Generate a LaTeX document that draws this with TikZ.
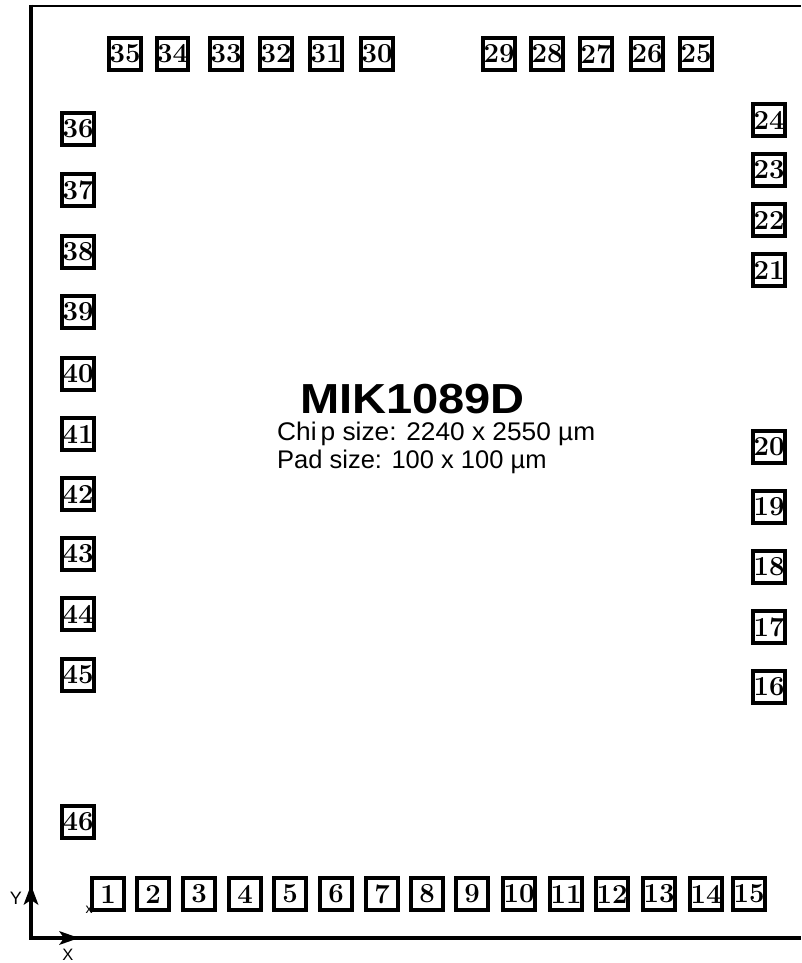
\documentclass[tikz,border=0pt]{standalone}
\usepackage{fontspec}
\usepackage{graphicx}
\newfontfamily\lsans{Liberation Sans}
\begin{document}
\begin{tikzpicture}[x=1pt,y=-1pt,
  pad/.style={draw, line width=3.6pt, minimum size=31.5pt, inner sep=0pt,
    font=\fontsize{27.5}{27.5}\bfseries\selectfont},
  tipfill/.style={fill=black},
  sanslabel/.style={inner sep=0pt, font=\lsans\fontsize{#1}{#1}\selectfont},
  infotext/.style={anchor=base west, inner sep=0pt, font=\lsans\fontsize{25.5}{28}\selectfont}]
\useasboundingbox (0,0) rectangle (801,963);
% frame
\coordinate (tl) at (31,6);
\coordinate (tr) at (801,6);
\coordinate (o) at (31,938);
\coordinate (br) at (801,938);
\coordinate (ytip) at (31,885);
\coordinate (xtip) at (79,938);
\draw[line width=2.5pt] (29,6) -- (tr);
\draw[line width=4pt] (31,4.75) -- (31,940);
\draw[line width=3.5pt] (29,938) -- (br);
\fill[tipfill] (ytip) -- ++(7.5,20) -- ++(-7.5,-5) -- ++(-7.5,5) -- cycle;
\fill[tipfill] (xtip) -- ++(-20,7) -- ++(5,-7) -- ++(-5,-7) -- cycle;
\node[sanslabel=18] (ylab) at (16,898) {Y};
\node[sanslabel=16.5] (xlab) at (68,954.5) {X};
\node[sanslabel=14] (xsmall) at (89,910) {x};
% texts
\node[anchor=base, inner sep=0pt, font=\lsans\bfseries\fontsize{42}{42}\selectfont] (title) at (412.5,413) {\scalebox{1.12}[1]{MIK1089D}};
\node[infotext] (chip) at (277,440) {\scalebox{1.03}[1]{Chi\kern4pt p size: 2240 x 2550 µm}};
\node[infotext] (padsz) at (277,468) {Pad size: 100 x 100 µm};
% bottom pads
\foreach \n/\x in {1/108,2/153,3/199,4/245,5/290,6/336,7/382,8/427,9/472,10/519,11/566,12/612,13/659,14/706,15/749}
  \node[pad] (p\n) at (\x,894) {\n};
% right pads
\foreach \n/\y in {16/687,17/627,18/567,19/507,20/447,21/270,22/220,23/170,24/120}
  \node[pad] (p\n) at (769,\y) {\n};
% top pads
\foreach \n/\x in {25/696,26/647,27/596,28/547,29/499,30/377,31/326,32/276,33/226,34/172.5,35/125}
  \node[pad] (p\n) at (\x,54) {\n};
% left pads
\foreach \n/\y in {36/129,37/190,38/252,39/312,40/374,41/434,42/494,43/554,44/614,45/675,46/822}
  \node[pad] (p\n) at (78,\y) {\n};
\end{tikzpicture}
\end{document}
